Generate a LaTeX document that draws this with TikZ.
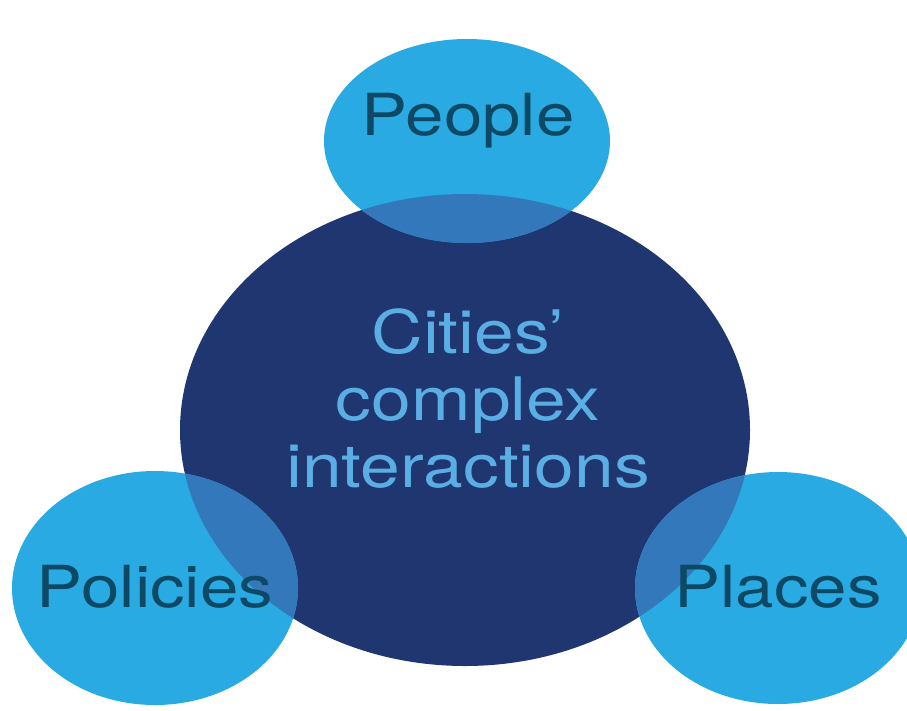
\documentclass[tikz,border=0pt]{standalone}
\usepackage{fontspec}
\setmainfont{TeX Gyre Heros}
\usetikzlibrary{shapes.geometric}
\usetikzlibrary{positioning}

\definecolor{navy}{HTML}{1F3670}
\definecolor{skyblue}{HTML}{29AAE2}
\definecolor{midblue}{HTML}{3478BC}
\definecolor{paleblue}{HTML}{5AAEE4}
\definecolor{darkteal}{HTML}{0D4864}

\tikzset{
  blob/.style={ellipse, inner sep=0pt, fill=skyblue},
  hub/.style={ellipse, inner sep=0pt, fill=navy},
  word/.style={font=\fontsize{58}{67}\selectfont, text=darkteal, xscale=1.19, inner sep=0pt},
  hubword/.style={word, font=\fontsize{60}{67}\selectfont, text=paleblue, align=center}
}

\begin{document}
\begin{tikzpicture}[x=1pt, y=-1pt]

 \useasboundingbox (0,0) rectangle (907,710);

 % big circle in the middle
 \node[hub, minimum width=570pt, minimum height=472pt] (cities) at (465,430) {};

 % the three small ones
 \node[blob, minimum width=286pt, minimum height=204pt] (people) at (467,141) {};
 \node[blob, minimum width=286pt, minimum height=234pt] (policies) at (155,588) {};
 \node[blob, minimum width=286pt, minimum height=232pt] (places) at (778,588) {};

 % overlaps
 \foreach \cx/\cy/\rx/\ry in {467/141/143/102, 155/588/143/117, 778/588/143/116} {
  \begin{scope}
   \clip (465,430) ellipse [x radius=285, y radius=236];
   \fill[midblue] (\cx,\cy) ellipse [x radius=\rx, y radius=\ry];
  \end{scope}
 }

 % labels
 \node[word, anchor=base] (people text) at (468,135) {People};
 \node[word, anchor=base] (policies text) at (155,607) {Policies};
 \node[word, anchor=base] (places text) at (778,607) {Places};
 \node[hubword] (cities text) at (468,399) {Cities’\\complex\\interactions};

\end{tikzpicture}
\end{document}
